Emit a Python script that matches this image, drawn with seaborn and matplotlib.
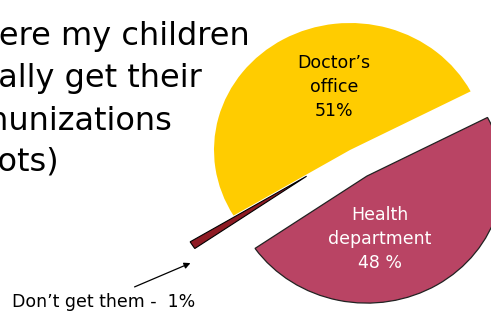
import matplotlib
matplotlib.use("Agg")
import matplotlib.pyplot as plt
import seaborn as sns

# pie data (share of children, %)
categories = ["Doctor\u2019s office", "Don\u2019t get them", "Health department"]
shares = [51, 1, 48]
wedge_colors = ["#FFCC00", "#8E1B24", "#B94464"]
explode = [0.0, 0.38, 0.24]

title_lines = ["Where my children", "usually get their", "immunizations", "(shots)"]

sns.set_theme(style="white")
plt.rcParams['font.family'] = ['DejaVu Sans']

W, H = 491, 316
fig = plt.figure(figsize=(W / 100, H / 100), dpi=100)
ax = fig.add_axes([0, 0, 1, 1])

wedges, _ = ax.pie(
    shares,
    colors=wedge_colors,
    explode=explode,
    startangle=27.5,
    counterclock=True,
    radius=1,
    wedgeprops=dict(linewidth=0),
)
# outlines like the original slide
wedges[1].set_edgecolor("black")
wedges[1].set_linewidth(0.8)
wedges[2].set_edgecolor("#222222")
wedges[2].set_linewidth(0.9)

# map the pie onto the slide area (slightly squashed ellipse)
cx, cy, rx, ry = 350, 150, 136, 127
ax.set_xlim((0 - cx) / rx, (W - cx) / rx)
ax.set_ylim((cy - H) / ry, cy / ry)
ax.set_aspect('auto')
ax.axis('off')


def fx(x):
    return x / W


def fy(y):
    return 1 - y / H


# title, cut off at the left edge like the source
for line, x, y in zip(title_lines, [-53, -59, -63, -52], [36, 79, 121, 162]):
    fig.text(fx(x), fy(y), line, fontsize=23, color="black",
             ha="left", va="center")

fig.text(fx(334), fy(87), "Doctor\u2019s\noffice\n51%", fontsize=12.5,
         color="black", ha="center", va="center", linespacing=1.4)
fig.text(fx(380), fy(239), "Health\ndepartment\n48 %", fontsize=12.5,
         color="white", ha="center", va="center", linespacing=1.45)

fig.text(fx(12), fy(302), "Don\u2019t get them -  1%", fontsize=12.5,
         color="black", ha="left", va="center")
ax.annotate("", xy=(fx(193), fy(262)), xycoords="figure fraction",
            xytext=(fx(132), fy(288)), textcoords="figure fraction",
            arrowprops=dict(arrowstyle="-|>", color="black", lw=0.9,
                            mutation_scale=9))

fig.savefig("out.png", dpi=100)
